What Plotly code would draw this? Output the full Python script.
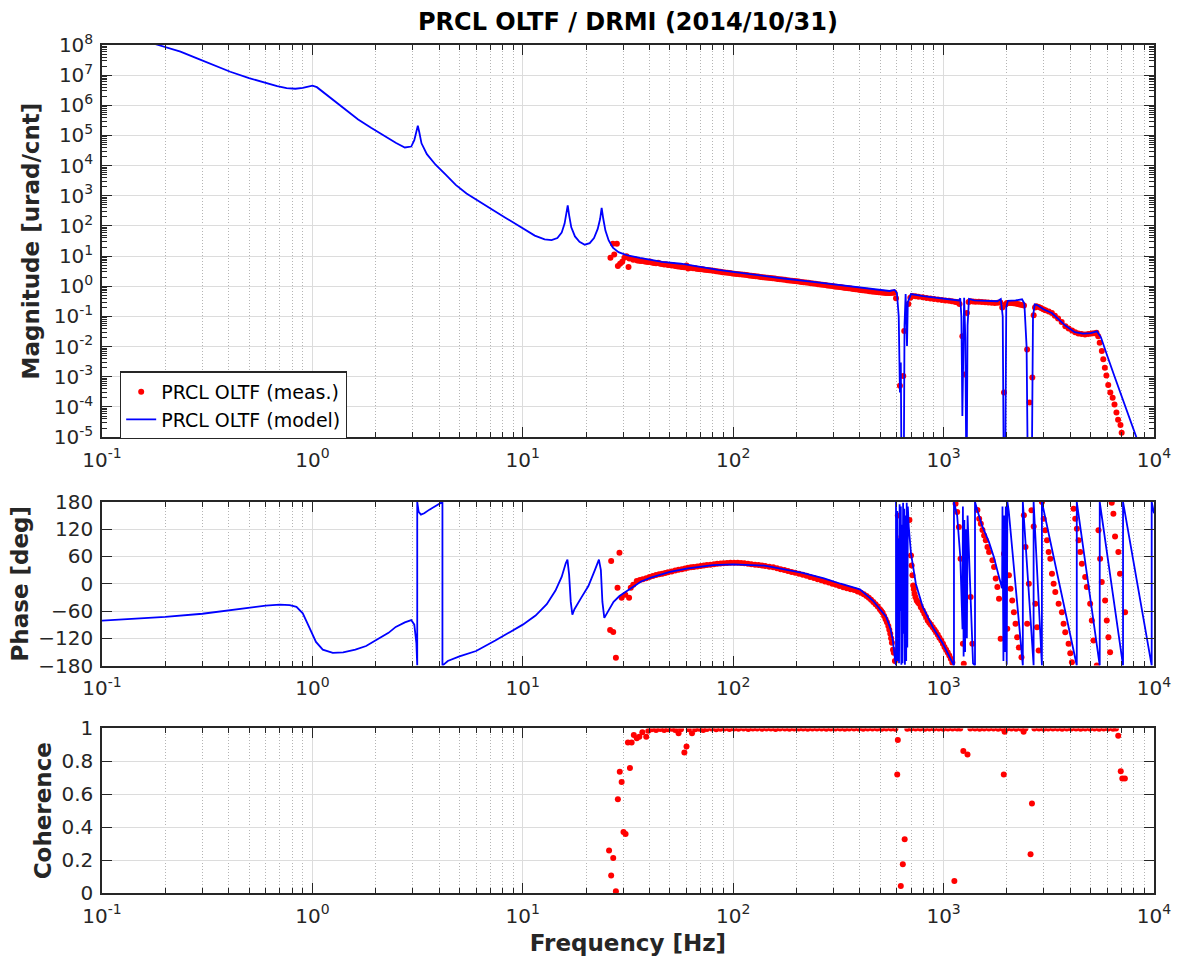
import plotly.graph_objects as go

# ---------------- data ----------------
model_mag_freq = [0.1, 0.15, 0.185, 0.236, 0.283, 0.35, 0.407, 0.5, 0.585, 0.68, 0.754, 0.83, 0.9, 0.96, 1.0,
                  1.05, 1.12, 1.2, 1.3, 1.45, 1.65, 1.9, 2.2, 2.5, 2.75, 2.95, 3.05, 3.12, 3.17, 3.22, 3.3,
                  3.5, 3.85, 4.3, 4.8, 5.4, 6.0, 6.7, 7.4, 8.3, 9.2, 10.2, 11.4, 12.7, 13.7, 14.6, 15.3,
                  15.8, 16.1, 16.35, 16.6, 17.0, 17.7, 18.6, 19.7, 20.8, 21.8, 22.7, 23.3, 23.7, 24.1,
                  24.7, 25.6, 26.8, 28.5, 31.5, 36, 40, 46, 56.4, 70, 85, 100, 130, 170, 240, 320, 420,
                  500, 553, 585, 600, 612, 620, 626, 632, 646, 652, 660, 665, 670, 676, 700, 800, 1000,
                  1180, 1200, 1215, 1228, 1238, 1252, 1268, 1285, 1300, 1320, 1400, 1600, 1800, 1870,
                  1910, 1935, 1960, 1985, 2020, 2200, 2360, 2420, 2480, 2520, 2620, 2660, 2710, 2780,
                  3000, 3270, 3790, 4200, 4600, 5000, 5360, 5600, 5770, 6000, 6500, 7000, 7500, 8000, 8500]
model_mag = [3.5e8, 1.6e8, 1.0e8, 6.0e7, 3.6e7, 2.0e7, 1.3e7, 8.0e6, 5.7e6, 4.3e6, 3.7e6, 3.55e6, 3.8e6,
             4.3e6, 4.5e6, 4.0e6, 2.8e6, 1.9e6, 1.2e6, 6.5e5, 3.4e5, 1.8e5, 9.5e4, 5.6e4, 4.0e4, 4.3e4,
             7.0e4, 1.4e5, 2.1e5, 1.3e5, 5.5e4, 2.4e4, 1.07e4, 5.0e3, 2.3e3, 1.2e3, 740, 460, 300, 185,
             120, 78, 48, 36, 34, 40, 60, 120, 260, 480, 230, 90, 45, 30, 24, 27, 40, 80, 170, 400, 180,
             70, 33, 19, 13.5, 10.5, 8.7, 7.6, 6.5, 5.6, 4.3, 3.5, 3.0, 2.3, 1.85, 1.4, 1.1, 0.85,
             0.72, 0.7, 0.76, 0.6, 0.1, 3e-4, 3e-3, 1e-7, 1e-7, 0.05, 0.55, 0.05, 0.0105, 0.3, 0.55,
             0.47, 0.38, 0.34, 0.4, 0.1, 5e-5, 0.02, 0.42, 0.02, 1e-7, 0.05, 0.38, 0.34, 0.33, 0.32,
             0.38, 0.1, 1e-7, 1e-7, 0.2, 0.33, 0.34, 0.37, 0.27, 0.01, 1e-7, 1e-7, 0.1, 0.25, 0.24,
             0.17, 0.13, 0.05, 0.03, 0.027, 0.028, 0.032, 0.02, 0.0105, 4.9e-3, 1.0e-3, 2.4e-4, 6.3e-5,
             1.7e-5, 5.5e-6]

meas_mag_freq = [26.1, 26.8, 27.2, 28.0, 28.3, 29.0, 29.7, 30.4, 31.1, 31.8, 32.1, 33.5, 34.2, 35, 35.8,
                 36.5, 37.2, 38, 38.8, 39.5, 40.2, 41, 42, 43, 44, 45, 46, 47, 48, 49, 50, 51, 52, 53, 54,
                 55, 56, 57, 58.5, 60, 61, 62, 63, 64.5, 66, 67, 68.5, 70, 71.5, 73, 75, 77, 79, 81, 83,
                 85, 87, 89, 91.5, 94, 96.5, 99, 101.5, 104, 107, 110, 113, 116, 119, 122, 125, 128, 131.5,
                 135, 138.5, 142, 146, 150, 154, 158, 162.5, 167, 171.5, 176, 180.5, 185, 190, 195, 200,
                 205, 210.5, 216, 222, 228, 234, 240, 246.5, 253, 259.5, 266, 273, 280, 287.5, 295, 302.5,
                 310, 318.5, 327, 335.5, 344, 353, 362, 371.5, 381, 391, 401, 411.5, 422, 433, 444, 455.5,
                 467, 479.5, 492, 505, 518, 531.5, 545, 555, 565, 574, 583, 594,
                 620, 643, 650, 680, 695, 710, 735, 760, 795, 830, 865, 900, 940, 980, 1020, 1060, 1095,
                 1130, 1150, 1170, 1190, 1228, 1262, 1290, 1315, 1340, 1380, 1420, 1470, 1520, 1575, 1630,
                 1690, 1750, 1805, 1860, 1900, 1937, 1970, 2000, 2050, 2100, 2150, 2200, 2250, 2300, 2355,
                 2410, 2495, 2560, 2640, 2680, 2720, 2760, 2830, 2900, 2975, 3050, 3160, 3270, 3380, 3500,
                 3640, 3790, 3930, 4080, 4220, 4370, 4530, 4700, 4870, 5050, 5190, 5330, 5430, 5520, 5650,
                 5740, 5840, 5940, 6060, 6200, 6360, 6490, 6630, 6750, 6930, 7020]
meas_mag = [8.8, 25.6, 11.4, 25.6, 4.7, 5.6, 6.5, 8.8, 10.0, 4.4, 8.4, 7.6, 7.9, 7.2, 7.0,
            6.9, 7.1, 6.6, 6.5, 6.4, 6.6, 6.1, 5.9, 5.8, 6.0, 5.55, 5.5, 5.3, 5.4, 5.05, 5.1, 4.85, 4.95,
            4.7, 4.6, 4.5, 4.55, 4.35, 4.3, 4.9, 3.9, 4.15, 4.1, 4.0, 3.95, 3.85, 3.75, 3.7, 3.65, 3.55,
            3.45, 3.4, 3.35, 3.25, 3.15, 3.1, 3.05, 2.95, 2.85, 2.8, 2.75, 2.65, 2.6, 2.55, 2.5, 2.45, 2.4,
            2.35, 2.28, 2.25, 2.2, 2.15, 2.1, 2.05, 2.0, 1.97, 1.93, 1.88, 1.84, 1.8, 1.76, 1.72, 1.68,
            1.64, 1.6, 1.57, 1.53, 1.5, 1.46, 1.43, 1.4, 1.37, 1.33, 1.3, 1.27, 1.24, 1.21, 1.18, 1.15,
            1.13, 1.1, 1.07, 1.05, 1.02, 0.99, 0.97, 0.95, 0.93, 0.9, 0.88, 0.86, 0.84, 0.82, 0.8, 0.78,
            0.76, 0.74, 0.72, 0.71, 0.69, 0.67, 0.66, 0.645, 0.63, 0.62, 0.61, 0.605, 0.6, 0.605, 0.61,
            0.615, 0.62, 0.40,
            5e-4, 1.07e-3, 0.033, 0.26, 0.42, 0.48, 0.47, 0.45, 0.43, 0.41, 0.395, 0.38, 0.365, 0.35,
            0.34, 0.33, 0.32, 0.31, 0.3, 0.29, 0.26, 0.022, 1.2e-3, 0.13, 0.3, 0.32, 0.315, 0.31, 0.305,
            0.3, 0.295, 0.29, 0.285, 0.28, 0.285, 0.29, 0.2, 3e-4, 0.25, 0.28, 0.28, 0.28, 0.275, 0.27,
            0.26, 0.25, 0.24, 0.23, 8e-3, 1.4e-4, 9.4e-4, 0.11, 0.2, 0.22, 0.205, 0.19, 0.175, 0.16,
            0.145, 0.13, 0.105, 0.085, 0.065, 0.047, 0.04, 0.034, 0.03, 0.027, 0.026, 0.025, 0.026,
            0.027, 0.028, 0.029, 0.022, 0.0135, 7.2e-3, 3.8e-3, 2e-3, 1.1e-3, 5.3e-4, 3e-4, 2e-4,
            1.2e-4, 6.5e-5, 3.8e-5, 2.5e-5, 1.4e-5]

model_phase_freq = [0.1, 0.2, 0.3, 0.407, 0.5, 0.6, 0.7, 0.78, 0.84, 0.9, 0.94, 1.0, 1.04, 1.12, 1.25, 1.4,
                    1.6, 1.8, 2.08, 2.3, 2.49, 2.75, 2.95, 3.05, 3.12, 3.15, 3.15, 3.2, 3.28, 3.4, 3.6,
                    3.9, 4.15, 4.15, 4.4, 5.0, 6.0, 7.4, 9.0, 10.0, 11.5, 13.0, 14.3, 15.3, 16.0, 16.3,
                    16.6, 16.9, 17.2, 17.6, 19.0, 20.5, 22.0, 23.0, 23.5, 23.9, 24.4, 25.5, 27.0, 28.8,
                    32.0, 36.5, 40.3, 50, 61, 80, 100, 141, 214, 270, 324, 400, 461, 534, 560, 574, 587,
                    594, 594, 598, 602, 606, 610, 614, 618, 622, 626, 630, 634, 638, 642, 646, 650, 655,
                    660, 664, 668, 672, 676, 683, 700, 738, 796, 888, 993, 1100, 1120, 1120, 1160, 1200,
                    1230, 1235, 1245, 1255, 1265, 1275, 1290, 1300, 1340, 1380, 1410, 1410, 1450, 1528,
                    1642, 1733, 1831, 1897, 1905, 1925, 1940, 1955, 1975, 1995, 2010, 2040, 2360, 2380,
                    2380, 2678, 2678, 2933, 2933, 4295, 4295, 5522, 5522, 7126, 7126, 9750, 9750, 10000]
model_phase = [-81, -73, -66, -58, -52, -48, -46, -47, -51, -65, -84, -112, -128, -145, -152, -151, -145,
               -137, -121, -108, -95, -85, -80, -90, -130, -180, 180, 158, 152, 155, 163, 173, 180, -180,
               -170, -160, -148, -125, -103, -90, -70, -45, -15, 15, 45, 53, 20, -40, -68, -56, -30, -5,
               30, 53, 30, -40, -75, -60, -40, -27, -12, 5, 13, 26, 34, 41, 42.6, 40, 24, 12, 0, -12.5,
               -37, -73, -100, -125, -165, -180, 180, -120, 160, -170, 100, -175, 175, -60, 170, -178,
               130, -175, 178, -110, 165, -178, 150, -170, 178, -140, 170, 125, 66, 0, -51, -95.5, -132,
               -172, -180, 180, 150, 60, -100, 170, -160, 140, -150, 120, -120, 150, -30, -175, -180, 180,
               160, 126, 92, 59, 16, -10, 170, -170, 150, -150, 170, -178, 180, 160, -161, -180, 180,
               -180, 180, -180, 180, -180, 180, -180, 180, -180, 180, -180, 180, 155]

meas_phase_freq = [26.0, 26.3, 26.9, 27.7, 28.2, 28.8, 29.5, 30.7, 32.0, 32.6, 33.5, 34.8, 36, 37.2, 38.6,
                   40, 41.5, 43, 44.5, 46, 47.5, 49, 51, 53, 55, 57, 59, 61, 63, 65, 67.5, 70, 72.5, 75,
                   78, 81, 84, 87, 90, 93.5, 97, 101, 105, 109, 113, 117.5, 122, 127, 132, 137, 142,
                   148.5, 155, 161.5, 168, 175, 182, 189.5, 197, 205.5, 214, 223, 232, 242, 252, 262.5,
                   273, 284.5, 296, 308, 320, 333.5, 347, 361.5, 376, 390.5, 405, 417.5, 430, 441, 452,
                   463.5, 475, 486.5, 498, 505.5, 513, 521.5, 530, 538, 546, 552, 558, 563, 568, 575, 580,
                   587, 606, 630, 688, 700, 705, 711, 717, 722, 728, 735, 745, 755, 765, 780, 796, 810,
                   825, 840, 855, 870, 888, 905, 920, 938, 955, 975, 993, 1010, 1028, 1046, 1064, 1082,
                   1100, 1140, 1160, 1182, 1204, 1235, 1247, 1344, 1370, 1448, 1476, 1503, 1530,
                   1558, 1587, 1616, 1645, 1706, 1737, 1769, 1801, 1834, 1867, 1936, 2007, 2044, 2081,
                   2119, 2158, 2197, 2237, 2278, 2345, 2407, 2451, 2496, 2542, 2617, 2680, 2729, 2779,
                   2830, 2935, 2989, 3044, 3100, 3157, 3215, 3274, 3334, 3395, 3521, 3651, 3718, 3786,
                   3927, 3999, 4072, 4147, 4223, 4300, 4379, 4459, 4541, 4709, 4795, 4973, 5064, 5157,
                   5348, 5446, 5546, 5647, 5856, 5964, 6073, 6184, 6297, 6412, 6530, 6771, 6895, 7286]
meas_phase = [-102, 50, -106, -163, -9, 68, -31, -24, -31, -9, -2, 6, 8, 10, 12,
              15, 17, 19, 21, 22, 23.5, 25, 27, 29, 30.5, 32, 33.5, 35, 36, 37, 38, 39, 40, 41,
              42, 43, 44, 44.5, 45, 45.5, 46, 46, 46, 45.5, 45, 44, 43, 42, 41, 40, 39,
              37.5, 36, 34, 32, 30, 28, 26, 24, 22, 20, 17.5, 15, 12.5, 10, 7.5,
              5, 2.5, 0, -2.5, -5, -7.5, -10, -12, -14, -17, -20, -23, -27, -31, -35,
              -40, -45, -50, -56, -60, -64, -71, -78, -85, -93, -101, -110, -120, -130, -145, -152,
              -170, 150, 103, 140, 62, 40, 18.4, -3.7, -12, -22, -30, -37, -41, -44, -52, -59, -66,
              -73, -81, -86, -90, -95.5, -101, -106, -112, -119, -125, -132, -139, -145, -151, -158, -165,
              -173, 176, 158, 125, 55, -132, -176, -29, -132, 162, 143, 132, 118,
              106, 95.5, 81, 70, 51.4, 37, 11.6, -7, -33, -121, 66, -99, 18.4, -11,
              -37, -62.5, -88, -117.6, -140, -161.6, 150.6, 81, -88, 0, 161.6, 126, -44, -95.5,
              -147, 180, 143, 117.6, 95.5, 70, 55, 22, 0, -18, -44, -62.5, -88, -106.5,
              -132, -153, -172.6, 165, 143, 121, 95.5, 70, 44, 15, -7, -44, -81, -125,
              -180, 117.6, 55, 3.7, -37, -81, -117.6, -150.6, 178, 154, 104, 70, 22, -62.5]

coh_freq = [25.7, 26.3, 26.9, 27.7, 28.3, 28.9, 29.5, 30.1, 30.8, 31.6, 32.3, 32.9, 33.7, 34.8, 35.8, 37.0,
            38.6, 39.5, 41, 43, 45, 47, 49, 51, 53, 55, 56.5, 58.6, 60, 61.5, 63.7, 66, 69, 72, 75, 79,
            83, 87, 91, 96, 101, 106, 112, 118, 124, 130, 137, 144, 151, 159, 167, 176, 185, 195, 205,
            215, 226, 238, 250, 263, 277, 291, 306, 322, 339, 356, 375, 394, 415, 436, 459, 483, 508,
            534, 562, 590, 602, 606, 626, 640, 653, 672, 700, 736, 774, 814, 857, 901, 948, 997, 1049,
            1103, 1125, 1160, 1200, 1241, 1299, 1340, 1410, 1483, 1560, 1641, 1726, 1816, 1900, 1932,
            1950, 2000, 2100, 2210, 2325, 2400, 2450, 2590, 2630, 2700, 2840, 2988, 3143, 3306, 3478,
            3659, 3849, 4049, 4259, 4481, 4713, 4958, 5216, 5487, 5772, 6072, 6388, 6600, 6760, 6950,
            7070, 7270]
coh = [0.258, 0.107, 0.213, 0.01, 0.57, 0.736, 0.675, 0.371, 0.359, 0.915, 0.76, 0.915, 0.96, 0.94, 0.95,
       0.976, 0.95, 0.985, 0.995, 0.99, 0.997, 0.99, 0.995, 0.998, 0.99, 0.97, 0.995, 0.854, 0.89, 0.995,
       0.97, 0.995, 0.998, 0.99, 0.997, 0.999, 0.995, 0.998, 1.0, 0.997, 0.999, 0.998, 1.0, 0.997, 0.999,
       1.0, 0.998, 0.999, 1.0, 0.997, 0.999, 1.0, 0.998, 0.999, 1.0, 0.999, 0.998, 1.0, 0.999, 1.0,
       0.998, 0.999, 1.0, 0.999, 0.998, 1.0, 0.999, 1.0, 0.998, 0.999, 1.0, 0.999, 0.998, 1.0, 0.999,
       0.998, 0.72, 0.93, 0.043, 0.174, 0.327, 0.998, 0.999, 1.0, 0.999, 0.998, 1.0, 0.999, 1.0, 0.998,
       0.999, 1.0, 0.073, 0.999, 1.0, 0.862, 0.842, 0.999, 1.0, 0.998, 0.999, 1.0, 0.999, 0.998, 1.0,
       0.72, 0.98, 0.999, 1.0, 0.998, 0.999, 0.98, 1.0, 0.235, 0.544, 0.999, 1.0, 0.998, 0.999, 1.0,
       0.999, 0.998, 1.0, 0.999, 1.0, 0.998, 0.999, 1.0, 0.999, 0.998, 1.0, 0.999, 0.998, 0.999, 0.955,
       0.74, 0.696, 0.696]

x_tick_vals = [0.1, 1, 10, 100, 1000, 10000]
x_tick_text = ["10<sup>-1</sup>", "10<sup>0</sup>", "10<sup>1</sup>", "10<sup>2</sup>", "10<sup>3</sup>",
               "10<sup>4</sup>"]
mag_exponents = [-5, -4, -3, -2, -1, 0, 1, 2, 3, 4, 5, 6, 7, 8]
phase_ticks = [-180, -120, -60, 0, 60, 120, 180]
coh_ticks = [0, 0.2, 0.4, 0.6, 0.8, 1]
coh_tick_text = ["0", "0.2", "0.4", "0.6", "0.8", "1"]

# ---------------- styling ----------------
FONT = "DejaVu Sans, Liberation Sans, Arial, sans-serif"
AX = "#262626"
GRID = "#dcdcdc"
RED = "#ff0000"
BLUE = "#0000ff"
TICK_SIZE = 20
LABEL_SIZE = 23

minor_x = [m * 10.0 ** k for k in range(-1, 4) for m in range(2, 10)]
mag_tick_vals = [10.0 ** e for e in mag_exponents]
mag_tick_text = ["10<sup>%d</sup>" % e for e in mag_exponents]
minor_mag = [m * 10.0 ** k for k in range(-5, 8) for m in range(2, 10)]

fig = go.Figure()
fig.add_trace(go.Scatter(x=meas_mag_freq, y=meas_mag, mode="markers", name="PRCL OLTF (meas.)",
                         marker=dict(color=RED, size=6), xaxis="x", yaxis="y"))
fig.add_trace(go.Scatter(x=model_mag_freq, y=model_mag, mode="lines", name="PRCL OLTF (model)",
                         line=dict(color=BLUE, width=1.8), xaxis="x", yaxis="y"))
fig.add_trace(go.Scatter(x=meas_phase_freq, y=meas_phase, mode="markers", showlegend=False,
                         marker=dict(color=RED, size=6), xaxis="x2", yaxis="y2"))
fig.add_trace(go.Scatter(x=model_phase_freq, y=model_phase, mode="lines", showlegend=False,
                         line=dict(color=BLUE, width=1.8), xaxis="x2", yaxis="y2"))
fig.add_trace(go.Scatter(x=coh_freq, y=coh, mode="markers", showlegend=False,
                         marker=dict(color=RED, size=6), xaxis="x3", yaxis="y3"))


def xaxis(anchor, title=None):
    d = dict(type="log", range=[-1, 4], anchor=anchor, domain=[0, 1],
             tickmode="array", tickvals=x_tick_vals, ticktext=x_tick_text,
             ticks="inside", ticklen=10, tickwidth=1.3, tickcolor=AX, ticklabelstandoff=4,
             showline=True, linecolor=AX, linewidth=1.5, mirror="ticks",
             showgrid=True, gridcolor=GRID, gridwidth=1.2, zeroline=False,
             minor=dict(tickmode="array", tickvals=minor_x, ticks="inside", ticklen=5, tickcolor=AX,
                        tickwidth=1.2, showgrid=True, gridcolor="#b4b4b4", griddash="1px,2px",
                        gridwidth=1),
             tickfont=dict(family=FONT, size=TICK_SIZE, color=AX))
    if title:
        d["title"] = dict(text=title, font=dict(family=FONT, size=LABEL_SIZE, color=AX), standoff=8)
    return d


def yaxis(anchor, domain, **kw):
    d = dict(anchor=anchor, domain=domain, ticks="inside", ticklen=10, tickwidth=1.3, tickcolor=AX,
             ticklabelstandoff=3,
             showline=True, linecolor=AX, linewidth=1.5, mirror="ticks",
             showgrid=True, gridcolor=GRID, gridwidth=1.2, zeroline=False,
             tickfont=dict(family=FONT, size=TICK_SIZE, color=AX))
    d.update(kw)
    return d


def ytitle(text, standoff=3):
    return dict(text=text, font=dict(family=FONT, size=LABEL_SIZE, color=AX), standoff=standoff)


fig.update_layout(
    width=1183, height=964,
    margin=dict(l=102, r=20, t=45, b=69),
    paper_bgcolor="white", plot_bgcolor="white",
    font=dict(family=FONT, color=AX),
    title=dict(text="<b>PRCL OLTF / DRMI (2014/10/31)</b>", x=0.5, xref="paper", xanchor="center",
               y=1 - 22 / 964, yanchor="middle", font=dict(family=FONT, size=24, color="black")),
    xaxis=xaxis("y"),
    xaxis2=xaxis("y2"),
    xaxis3=xaxis("y3", "<b>Frequency [Hz]</b>"),
    yaxis=yaxis("x", [0.5376, 1.0], type="log", range=[-5, 8], tickmode="array",
                tickvals=mag_tick_vals, ticktext=mag_tick_text,
                minor=dict(tickmode="array", tickvals=minor_mag, ticks="inside", ticklen=5,
                           tickcolor=AX, tickwidth=1.2, showgrid=False),
                title=ytitle("<b>Magnitude [urad/cnt]</b>", 8)),
    yaxis2=yaxis("x2", [0.2682, 0.4612], range=[-180, 180], tickmode="array", tickvals=phase_ticks,
                 title=ytitle("<b>Phase [deg]</b>")),
    yaxis3=yaxis("x3", [0.0, 0.1941], range=[0, 1], tickmode="array", tickvals=coh_ticks,
                 ticktext=coh_tick_text, title=ytitle("<b>Coherence</b>")),
    legend=dict(x=0.017, y=0.615, xanchor="left", yanchor="top", bgcolor="white",
                bordercolor=AX, borderwidth=1.3, font=dict(family=FONT, size=19, color="black"),
                tracegroupgap=0),
    showlegend=True,
)

fig.write_html("out.html")
